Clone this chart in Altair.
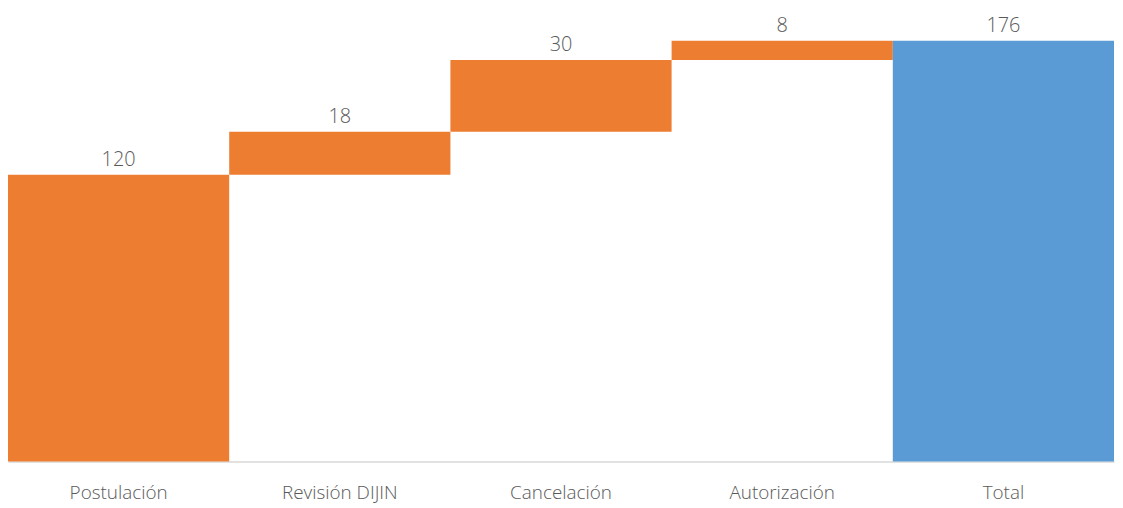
import altair as alt
import pandas as pd

categories = ["Postulación", "Revisión DIJIN", "Cancelación", "Autorización", "Total"]
values = [120, 18, 30, 8, 176]
is_total = [False, False, False, False, True]

starts, ends = [], []
running = 0
for v, t in zip(values, is_total):
    if t:
        starts.append(0)
        ends.append(v)
    else:
        starts.append(running)
        running += v
        ends.append(running)

df = pd.DataFrame({
    "cat": categories,
    "value": values,
    "start": starts,
    "end": ends,
    "kind": ["Total" if t else "Paso" for t in is_total],
})

FONT = "Open Sans"
TXT = "#595959"

x = alt.X("cat:N", sort=categories,
          scale=alt.Scale(paddingInner=0, paddingOuter=0),
          axis=alt.Axis(title=None, labelAngle=0, ticks=False, domain=True,
                        domainColor="#D9D9D9", domainWidth=1.5,
                        labelFont=FONT, labelFontSize=19, labelFontWeight=300,
                        labelColor=TXT, labelPadding=22, grid=False))

y_scale = alt.Scale(domain=[0, 189], nice=False, zero=True)

bars = alt.Chart(df).mark_bar().encode(
    x=x,
    y=alt.Y("start:Q", scale=y_scale, axis=None),
    y2="end:Q",
    color=alt.Color("kind:N", scale=alt.Scale(domain=["Paso", "Total"],
                                              range=["#ED7D31", "#5B9BD5"]),
                    legend=None),
)

labels = alt.Chart(df).mark_text(
    font=FONT, fontSize=20, fontWeight=300, color=TXT,
    baseline="alphabetic", dy=-9,
).encode(
    x=alt.X("cat:N", sort=categories),
    y=alt.Y("end:Q", scale=y_scale),
    text="value:Q",
)

chart = alt.layer(bars, labels).properties(
    width=1114, height=455,
    padding={"left": 0, "top": 0, "right": 1, "bottom": 45},
    autosize=alt.AutoSizeParams(type="none"),
).configure_view(stroke=None).configure_scale(bandPaddingInner=0, bandPaddingOuter=0)

chart.save("out.html", embed_options={"renderer": "svg", "actions": False})
